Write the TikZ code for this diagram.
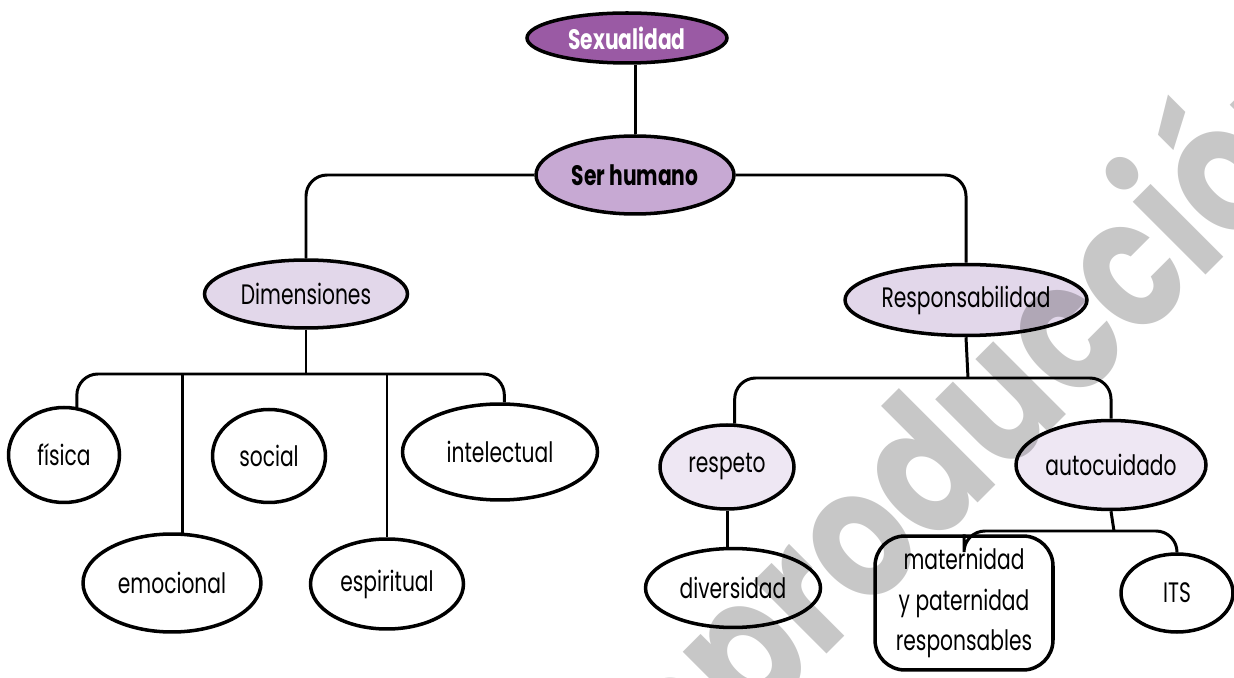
\documentclass[tikz,border=0pt]{standalone}
\usepackage{fontspec}
\setmainfont{Poppins}[FakeStretch=0.72]
\newfontfamily\marcafont{Poppins}[FakeStretch=0.8]
\usepackage{xcolor}
\usetikzlibrary{positioning,shapes.geometric}

\definecolor{moradoosc}{HTML}{9A5AA4}
\definecolor{moradomed}{HTML}{C7A9D3}
\definecolor{lilaclaro}{HTML}{E2D7EA}
\definecolor{lilapalido}{HTML}{EEE7F3}

\begin{document}
\begin{tikzpicture}[x=0.02cm,y=-0.02cm,font=\fontsize{16}{20}\selectfont,
  globo/.style={ellipse,draw,line width=2pt,inner sep=0pt,align=center},
  caja/.style={rectangle,rounded corners=0.6cm,draw,line width=2pt,align=center},
  negrita/.style={font=\bfseries\fontsize{16}{20}\selectfont},
  enlace/.style={line width=1.7pt,rounded corners=12pt}]
\useasboundingbox (0,0) rectangle (1234,678);

% nivel superior
\node[globo,negrita,fill=moradoosc,text=white,minimum width=4cm,minimum height=1cm] (sexo) at (627,38) {Sexualidad};
\node[globo,negrita,fill=moradomed,minimum width=3.96cm,minimum height=1.56cm] (ser) at (635,175) {Ser humano};
\node[globo,fill=lilaclaro,minimum width=4.06cm,minimum height=1.36cm] (dim) at (306,294) {Dimensiones};
\node[globo,fill=lilaclaro,minimum width=4.84cm,minimum height=1.42cm] (resp) at (966,300) {Responsabilidad};

% dimensiones
\node[globo,fill=white,minimum width=2.22cm,minimum height=1.9cm] (fis) at (64,455) {física};
\node[globo,fill=white,minimum width=2.26cm,minimum height=1.86cm] (soc) at (269,456) {social};
\node[globo,fill=white,minimum width=3.9cm,minimum height=1.92cm] (int) at (500,452) {intelectual};
\node[globo,fill=white,minimum width=3.56cm,minimum height=1.96cm] (emo) at (172,583) {emocional};
\node[globo,fill=white,minimum width=3.06cm,minimum height=1.8cm] (esp) at (387,584) {espiritual};

% responsabilidad
\node[globo,fill=lilapalido,minimum width=2.68cm,minimum height=1.68cm] (res) at (727,467) {respeto};
\node[globo,fill=lilapalido,minimum width=3.8cm,minimum height=1.78cm] (auto) at (1111,465) {autocuidado};
\node[globo,fill=white,minimum width=3.5cm,minimum height=1.58cm] (div) at (733,588) {diversidad};
\node[caja,fill=white,minimum width=3.56cm,minimum height=2.68cm,font=\fontsize{16}{23}\selectfont] (mat) at (964,603) {maternidad\\y paternidad\\responsables};
\node[globo,fill=white,minimum width=2.24cm,minimum height=1.56cm] (its) at (1177,593) {ITS};

\coordinate (dbus) at (306,374);
\coordinate (rbus) at (968,378);
\coordinate (abus) at (1114,531);

% enlaces
\draw[enlace] (ser.north) -- (ser.north |- sexo.south);
\draw[enlace] (ser.west) -| (dim.north);
\draw[enlace] (ser.east) -| (resp.north);
\draw[enlace] (dim.south) -- (dbus);
\draw[enlace] (fis.75) |- (dbus) -| (int.85);
\draw[enlace] (emo.78) -- (emo.78 |- dbus);
\draw[enlace] (esp.north) -- (esp.north |- dbus);
\draw[enlace] (resp.south) -- (rbus);
\draw[enlace] (res.80) |- (rbus) -| (auto.north);
\draw[enlace] (res.south) -- (res.south |- div.north);
\draw[enlace] (auto.south) -- (abus);
\draw[enlace] (mat.north) |- (abus) -| (its.north);

% marca de agua
\node[text=black,text opacity=0.22,rotate=45,font=\marcafont\bfseries\fontsize{105}{105}\selectfont] (marca) at (967,440) {reproducción};
\end{tikzpicture}
\end{document}
